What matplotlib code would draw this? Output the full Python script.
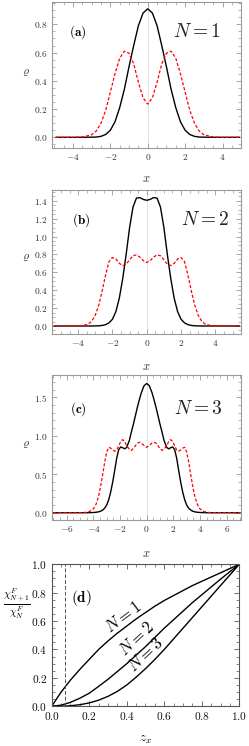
import matplotlib
matplotlib.use("Agg")
from matplotlib import pyplot as plt
from matplotlib.ticker import MultipleLocator, FormatStrFormatter

plt.rcParams["mathtext.fontset"] = "cm"
plt.rcParams["font.family"] = "serif"
plt.rcParams["font.serif"] = ["DejaVu Serif"]

# panel (a), N = 1
x_a = [-4.9, -4.0, -3.5, -3.0, -2.75, -2.5, -2.25, -2.0, -1.75, -1.5, -1.25, -1.0, -0.75, -0.5, -0.25,
       0.0, 0.25, 0.5, 0.75, 1.0, 1.25, 1.5, 1.75, 2.0, 2.25, 2.5, 2.75, 3.0, 3.5, 4.0, 4.9]
black_a = [0.0, 0.0, 0.0, 0.001, 0.002, 0.007, 0.02, 0.05, 0.11, 0.21, 0.34, 0.50, 0.65, 0.79, 0.88,
           0.91, 0.88, 0.79, 0.65, 0.50, 0.34, 0.21, 0.11, 0.05, 0.02, 0.007, 0.002, 0.001, 0.0, 0.0, 0.0]
red_a = [0.0, 0.0, 0.002, 0.018, 0.045, 0.10, 0.19, 0.32, 0.45, 0.56, 0.61, 0.595, 0.52, 0.39, 0.28,
         0.235, 0.28, 0.39, 0.52, 0.595, 0.61, 0.56, 0.45, 0.32, 0.19, 0.10, 0.045, 0.018, 0.002, 0.0, 0.0]

# panel (b), N = 2
x_b = [-5.4, -4.0, -3.7, -3.4, -3.2, -3.0, -2.8, -2.6, -2.4, -2.2, -2.0, -1.8, -1.6, -1.4, -1.2, -1.0,
       -0.8, -0.6, -0.4, -0.2, 0.0, 0.2, 0.4, 0.6, 0.8, 1.0, 1.2, 1.4, 1.6, 1.8, 2.0, 2.2, 2.4, 2.6,
       2.8, 3.0, 3.2, 3.4, 3.7, 4.0, 5.4]
black_b = [0.0, 0.0, 0.0, 0.0, 0.0, 0.001, 0.002, 0.006, 0.015, 0.035, 0.075, 0.16, 0.31, 0.53, 0.80, 1.10,
           1.33, 1.43, 1.435, 1.415, 1.405, 1.415, 1.435, 1.43, 1.33, 1.10, 0.80, 0.53, 0.31, 0.16, 0.075,
           0.035, 0.015, 0.006, 0.002, 0.001, 0.0, 0.0, 0.0, 0.0, 0.0]
red_b = [0.0, 0.003, 0.006, 0.022, 0.055, 0.12, 0.23, 0.39, 0.57, 0.72, 0.765, 0.75, 0.70, 0.675, 0.69, 0.74,
         0.785, 0.795, 0.77, 0.73, 0.71, 0.73, 0.77, 0.795, 0.785, 0.74, 0.69, 0.675, 0.70, 0.75, 0.765,
         0.72, 0.57, 0.39, 0.23, 0.12, 0.055, 0.022, 0.006, 0.003, 0.0]

# panel (c), N = 3
x_c = [-7.0, -5.0, -4.6, -4.3, -4.0, -3.8, -3.6, -3.45, -3.3, -3.15, -3.0, -2.85, -2.7, -2.55, -2.4, -2.25,
       -2.1, -1.95, -1.8, -1.65, -1.5, -1.3, -1.15, -1.0, -0.85, -0.7, -0.55, -0.4, -0.2,
       0.0, 0.2, 0.4, 0.55, 0.7, 0.85, 1.0, 1.15, 1.3, 1.5, 1.65, 1.8, 1.95, 2.1, 2.25, 2.4, 2.55,
       2.7, 2.85, 3.0, 3.15, 3.3, 3.45, 3.6, 3.8, 4.0, 4.3, 4.6, 5.0, 7.0]
black_c = [0.0, 0.0, 0.0, 0.001, 0.003, 0.006, 0.012, 0.02, 0.035, 0.06, 0.10, 0.17, 0.27, 0.40, 0.55, 0.71,
           0.82, 0.855, 0.845, 0.83, 0.85, 0.94, 1.05, 1.15, 1.26, 1.37, 1.47, 1.56, 1.65,
           1.68, 1.65, 1.56, 1.47, 1.37, 1.26, 1.15, 1.05, 0.94, 0.85, 0.83, 0.845, 0.855, 0.82, 0.71,
           0.55, 0.40, 0.27, 0.17, 0.10, 0.06, 0.035, 0.02, 0.012, 0.006, 0.003, 0.001, 0.0, 0.0, 0.0]
red_c = [0.0, 0.001, 0.004, 0.015, 0.05, 0.11, 0.22, 0.35, 0.50, 0.66, 0.79, 0.85, 0.84, 0.815, 0.80, 0.815,
         0.87, 0.925, 0.95, 0.925, 0.87, 0.825, 0.81, 0.835, 0.87, 0.905, 0.915, 0.905, 0.875,
         0.85, 0.875, 0.905, 0.915, 0.905, 0.87, 0.835, 0.81, 0.825, 0.87, 0.925, 0.95, 0.925, 0.87,
         0.815, 0.80, 0.815, 0.84, 0.85, 0.79, 0.66, 0.50, 0.35, 0.22, 0.11, 0.05, 0.015, 0.004, 0.001, 0.0]

# panel (d), susceptibility ratio
z_x = [0.0, 0.05, 0.1, 0.15, 0.2, 0.25, 0.3, 0.35, 0.4, 0.45, 0.5, 0.55, 0.6, 0.65, 0.7, 0.75,
       0.8, 0.85, 0.9, 0.95, 1.0]
ratio_n1 = [0.0, 0.1, 0.185, 0.26, 0.33, 0.40, 0.46, 0.515, 0.565, 0.615, 0.66, 0.705, 0.745, 0.78,
            0.815, 0.85, 0.88, 0.91, 0.94, 0.97, 1.0]
ratio_n2 = [0.0, 0.008, 0.028, 0.057, 0.092, 0.14, 0.19, 0.245, 0.30, 0.36, 0.42, 0.485, 0.55, 0.61,
            0.67, 0.73, 0.785, 0.84, 0.895, 0.948, 1.0]
ratio_n3 = [0.0, 0.0005, 0.004, 0.011, 0.024, 0.043, 0.07, 0.105, 0.15, 0.205, 0.265, 0.33, 0.40, 0.475,
            0.55, 0.625, 0.70, 0.775, 0.85, 0.925, 1.0]
z_cut = 0.073

fig = plt.figure(figsize=(2.49, 7.46), dpi=100)


def frame(ax, col, lcol, size):
    for s in ax.spines.values():
        s.set_color(col)
        s.set_linewidth(0.8)
    ax.tick_params(which="both", direction="in", top=True, right=True, color=col,
                   labelcolor=lcol, labelsize=size, pad=3)
    ax.tick_params(which="major", length=3.5, width=0.6)
    ax.tick_params(which="minor", length=2, width=0.5)


def density(rect, xs, blk, red, xlim, ylim, ystep, yminor, ylab_y, xlab_y, tag, nlab, tag_pos, n_pos):
    ax = fig.add_axes(rect)
    ax.axvline(0, color="#dddddd", lw=0.6, zorder=0)
    ax.plot(xs, blk, color="k", lw=1.0)
    ax.plot(xs, red, color="red", lw=0.9, dashes=(2.5, 1.5))
    ax.set_xlim(xlim)
    ax.set_ylim(ylim)
    ax.xaxis.set_major_locator(MultipleLocator(2))
    ax.xaxis.set_minor_locator(MultipleLocator(0.5))
    ax.yaxis.set_major_locator(MultipleLocator(ystep))
    ax.yaxis.set_minor_locator(MultipleLocator(yminor))
    ax.xaxis.set_major_formatter(FormatStrFormatter("$%d$"))
    ax.yaxis.set_major_formatter(FormatStrFormatter("$%.1f$"))
    frame(ax, "#999999", "#333333", 6.8)
    ax.set_xlabel("$x$", fontsize=9, color="#333333")
    ax.set_ylabel(r"$\varrho$", fontsize=8.5, rotation=0, color="#333333")
    ax.xaxis.set_label_coords(0.5, xlab_y)
    ax.yaxis.set_label_coords(-0.135, ylab_y)
    ax.text(tag_pos[0], tag_pos[1], r"$\mathbf{(%s)}$" % tag, transform=ax.transAxes,
            ha="center", va="center", fontsize=9.5)
    ax.text(n_pos[0], n_pos[1], "$N=%d$" % nlab, transform=ax.transAxes,
            ha="center", va="center", fontsize=14, color="#222222")
    return ax


density([0.2088, 0.8016, 0.7592, 0.1957], x_a, black_a, red_a, (-5.12, 4.99), (-0.0757, 0.958),
        0.2, 0.05, 0.477, -0.162, "a", 1, (0.138, 0.795), (0.767, 0.795))
density([0.2076, 0.5527, 0.7614, 0.1926], x_b, black_b, red_b, (-5.54, 5.51), (-0.086, 1.52),
        0.2, 0.05, 0.49, -0.183, "b", 2, (0.158, 0.791), (0.808, 0.791))
density([0.2076, 0.3029, 0.7614, 0.1944], x_c, black_c, red_c, (-7.13, 7.1), (-0.095, 1.79),
        0.5, 0.1, 0.48, -0.184, "c", 3, (0.14, 0.763), (0.773, 0.763))

# panel (d)
ax = fig.add_axes([0.2076, 0.0532, 0.7534, 0.1904])
ax.plot(z_x, ratio_n1, color="k", lw=1.0)
ax.plot(z_x, ratio_n2, color="k", lw=1.0)
ax.plot(z_x, ratio_n3, color="k", lw=1.0)
ax.axvline(z_cut, color="#555555", lw=0.7, dashes=(4, 2))
ax.set_xlim(0, 1)
ax.set_ylim(0, 1)
ax.xaxis.set_major_locator(MultipleLocator(0.2))
ax.xaxis.set_minor_locator(MultipleLocator(0.05))
ax.yaxis.set_major_locator(MultipleLocator(0.2))
ax.yaxis.set_minor_locator(MultipleLocator(0.05))
ax.xaxis.set_major_formatter(FormatStrFormatter("$%.1f$"))
ax.yaxis.set_major_formatter(FormatStrFormatter("$%.1f$"))
frame(ax, "#555555", "#111111", 8.2)
ax.set_xlabel("$z_x$", fontsize=9.5)
ax.set_ylabel(r"$\frac{\chi^F_{N+1}}{\chi^F_N}$", fontsize=11, rotation=0)
ax.xaxis.set_label_coords(0.5, -0.19)
ax.yaxis.set_label_coords(-0.185, 0.6)
ax.text(0.16, 0.765, r"$\mathbf{(d)}$", transform=ax.transAxes, ha="center", va="center", fontsize=11)
ax.text(0.385, 0.625, "$N=1$", ha="center", va="center", fontsize=12, rotation=37)
ax.text(0.455, 0.475, "$N=2$", ha="center", va="center", fontsize=12, rotation=43)
ax.text(0.50, 0.36, "$N=3$", ha="center", va="center", fontsize=12, rotation=43)

fig.savefig("out.png", dpi=100)
